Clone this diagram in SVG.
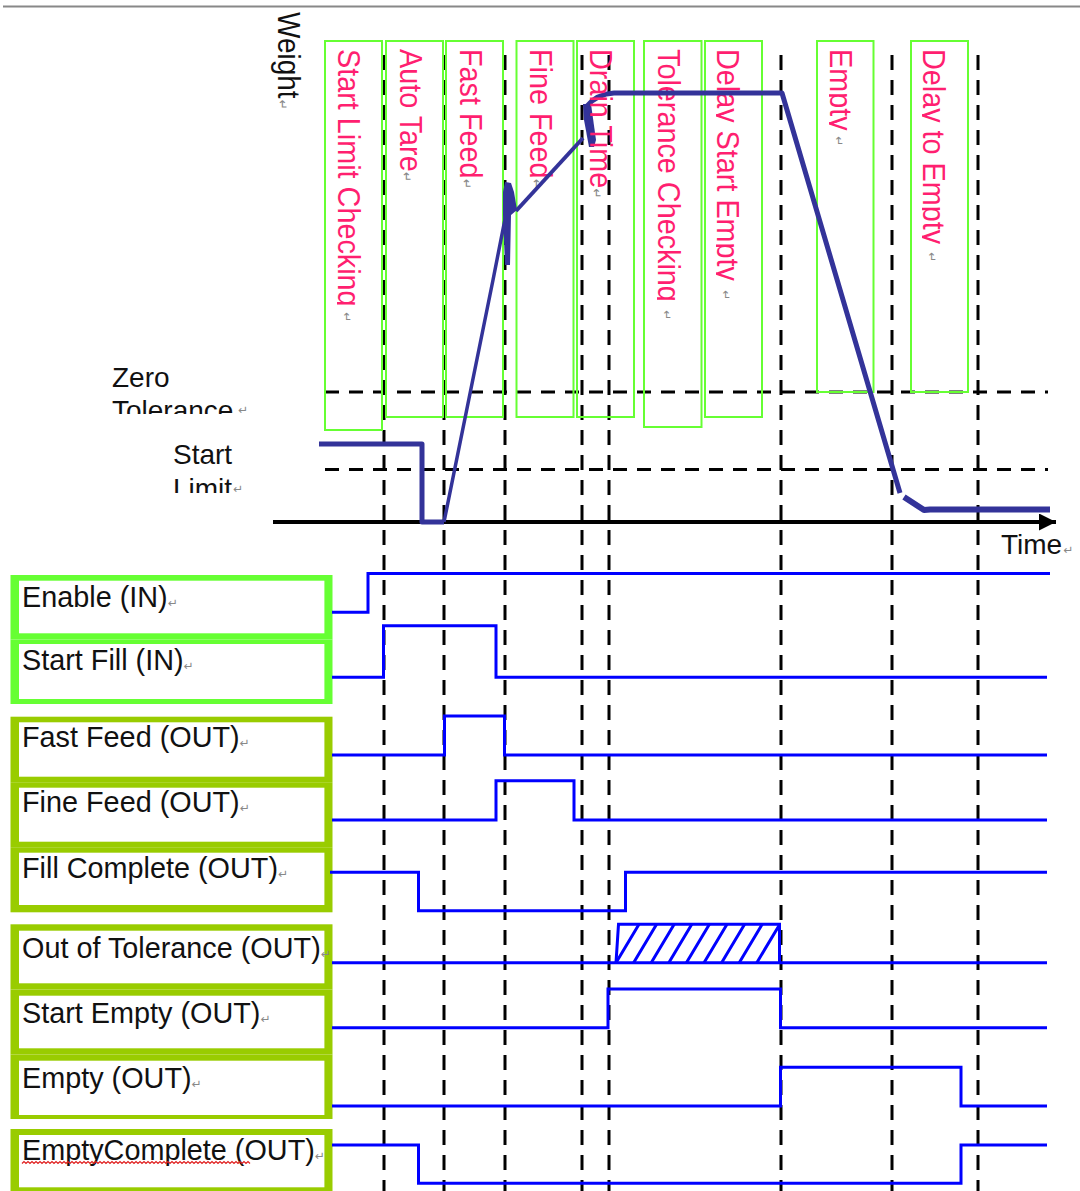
<svg xmlns="http://www.w3.org/2000/svg" width="1080" height="1191" viewBox="0 0 1080 1191">
<style>
.phase{fill:none;stroke:#66ff33;stroke-width:2}
.ptxt{font-family:"Liberation Sans",Arial,sans-serif;font-size:28.8px;fill:#ff1f70}
.mark{font-family:"DejaVu Sans",sans-serif;font-size:12px;fill:#888}
.lbl{font-family:"Liberation Sans",Arial,sans-serif;font-size:28.8px;fill:#111}
.axtxt{font-family:"Liberation Sans",Arial,sans-serif;font-size:28px;fill:#111}
.vd{stroke:#000;stroke-width:3;stroke-dasharray:15 10;fill:none}
.hd{stroke:#000;stroke-width:3;stroke-dasharray:14 10;fill:none}
.sig{fill:none;stroke:#0000ff;stroke-width:3;stroke-linejoin:miter}
.wt{fill:none;stroke:#333399;stroke-linejoin:round}
.inG{fill:#66ff33}
.outG{fill:#99cc00}
.inner{fill:#fff}
</style>
<defs>
<clipPath id="c1"><rect x="337" y="40" width="60" height="400"/></clipPath>
<clipPath id="c6"><rect x="657" y="40" width="50" height="400"/></clipPath>
<clipPath id="c7"><rect x="716" y="40" width="50" height="400"/></clipPath>
<clipPath id="c8"><rect x="829" y="40" width="50" height="400"/></clipPath>
<clipPath id="c9"><rect x="922" y="40" width="50" height="400"/></clipPath>
<clipPath id="czt"><rect x="100" y="350" width="160" height="64"/></clipPath>
<clipPath id="csl"><rect x="160" y="430" width="100" height="63"/></clipPath>
<marker id="arr" viewBox="0 0 10 10" refX="10" refY="5" markerWidth="17" markerHeight="17" markerUnits="userSpaceOnUse" orient="auto"><path d="M0,0 L10,5 L0,10 Z" fill="#000"/></marker>
</defs>
<rect width="1080" height="1191" fill="#fff"/>
<line x1="3" y1="6.5" x2="1080" y2="6.5" stroke="#888" stroke-width="2"/>

<g id="guides">
<path class="vd" d="M384,55V1191M444,55V1191M505,55V1191M582,55V1191M609,55V1191M781,55V1191M892,55V1191M978,55V1191"/>
<path class="hd" d="M325,392H1048M325,469.5H1048"/>
</g>

<g id="axis">
<line x1="273" y1="522" x2="1056" y2="522" stroke="#000" stroke-width="4" marker-end="url(#arr)"/>
<text class="axtxt" transform="translate(278,12) rotate(90) scale(1,1.1)">Weight<tspan class="mark" dx="1">↵</tspan></text>
<g clip-path="url(#czt)"><text class="axtxt" x="112" y="387">Zero</text><text class="axtxt" x="112" y="420">Tolerance</text></g>
<text class="mark" x="238" y="414">↵</text>
<g clip-path="url(#csl)"><text class="axtxt" x="173" y="464">Start</text><text class="axtxt" x="173" y="498">Limit</text></g>
<text class="mark" x="233" y="493">↵</text>
<text class="axtxt" x="1001" y="554">Time<tspan class="mark" dx="1">↵</tspan></text>
</g>

<g id="phase-start-limit-checking"><rect class="phase" x="325" y="41" width="57" height="389"/>
<g clip-path="url(#c1)"><text class="ptxt" transform="translate(338,49) rotate(90) scale(1,1.1)">Start Limit Checking</text></g><text class="mark" transform="translate(343,312) rotate(90)">↵</text></g>
<g id="phase-auto-tare"><rect class="phase" x="386" y="41" width="57" height="376"/>
<text class="ptxt" transform="translate(400,49) rotate(90) scale(1,1.1)">Auto Tare<tspan class="mark" dy="-2">↵</tspan></text></g>
<g id="phase-fast-feed"><rect class="phase" x="446" y="41" width="57" height="376"/>
<text class="ptxt" transform="translate(460,49) rotate(90) scale(1,1.1)">Fast Feed<tspan class="mark" dy="-2">↵</tspan></text></g>
<g id="phase-fine-feed"><rect class="phase" x="516.5" y="41" width="57" height="376"/>
<text class="ptxt" transform="translate(530,49) rotate(90) scale(1,1.1)">Fine Feed<tspan class="mark" dy="-2">↵</tspan></text></g>
<g id="phase-drain-time"><rect class="phase" x="577" y="41" width="57" height="376"/></g>
<g id="phase-tolerance-checking"><rect class="phase" x="644" y="41" width="57.5" height="386"/>
<g clip-path="url(#c6)"><text class="ptxt" transform="translate(658,49) rotate(90) scale(1,1.1)">Tolerance Checking</text></g><text class="mark" transform="translate(663,310) rotate(90)">↵</text></g>
<g id="phase-delay-start-empty"><rect class="phase" x="705" y="41" width="57" height="376"/>
<g clip-path="url(#c7)"><text class="ptxt" transform="translate(717,49) rotate(90) scale(1,1.1)">Delay Start Empty</text></g><text class="mark" transform="translate(722,290) rotate(90)">↵</text></g>
<g id="phase-empty"><rect class="phase" x="817" y="41" width="56.5" height="351"/>
<g clip-path="url(#c8)"><text class="ptxt" transform="translate(830,49) rotate(90) scale(1,1.1)">Empty</text></g><text class="mark" transform="translate(835,136) rotate(90)">↵</text></g>
<g id="phase-delay-to-empty"><rect class="phase" x="911" y="41" width="57" height="351"/>
<g clip-path="url(#c9)"><text class="ptxt" transform="translate(923,49) rotate(90) scale(1,1.1)">Delay to Empty</text></g><text class="mark" transform="translate(928,252) rotate(90)">↵</text></g>

<g id="weight-curve">
<path class="wt" stroke-width="5" d="M319,444H422V522H444"/>
<path class="wt" stroke-width="3.5" d="M444,522L493,280L506,214"/>
<polygon fill="#333399" points="505,182 511,183 514,192 517,210 511,215 510,265 505,265 503,215 503,192"/>
<path class="wt" stroke-width="4" d="M516,211L583,138"/>
<polygon fill="#333399" points="583,104 591,104 596,140 594,147 589,147 584,120"/>
<path class="wt" stroke-width="5" d="M587,106Q597,94 614,93H782L900,493"/>
<path class="wt" stroke-width="6" d="M904,497L924,510L930,509.5H1050"/>
</g>

<text class="ptxt" transform="translate(590,49) rotate(90) scale(1,1.1)">Drain Time<tspan class="mark" dy="-2">↵</tspan></text>

<g id="node-enable"><rect class="inG" x="10.5" y="575" width="322" height="64.5"/><rect class="inner" x="19" y="580.7" width="305.4" height="52.6"/>
<text class="lbl" x="22" y="607">Enable (IN)<tspan class="mark">↵</tspan></text></g>
<g id="node-start-fill"><rect class="inG" x="10.5" y="639.5" width="322" height="64.5"/><rect class="inner" x="19" y="644" width="305.4" height="55"/>
<text class="lbl" x="22" y="669.5">Start Fill (IN)<tspan class="mark">↵</tspan></text></g>

<g id="node-fast-feed"><rect class="outG" x="10.5" y="716.7" width="322" height="65.5"/><rect class="inner" x="19" y="722.3" width="305.4" height="54.4"/>
<text class="lbl" x="22" y="747">Fast Feed (OUT)<tspan class="mark">↵</tspan></text></g>
<g id="node-fine-feed"><rect class="outG" x="10.5" y="782.2" width="322" height="65"/><rect class="inner" x="19" y="787.7" width="305.4" height="54"/>
<text class="lbl" x="22" y="812">Fine Feed (OUT)<tspan class="mark">↵</tspan></text></g>
<g id="node-fill-complete"><rect class="outG" x="10.5" y="847.2" width="322" height="65.1"/><rect class="inner" x="19" y="852.7" width="305.4" height="52.3"/>
<text class="lbl" x="22" y="878">Fill Complete (OUT)<tspan class="mark">↵</tspan></text></g>

<g id="node-out-of-tolerance"><rect class="outG" x="10.5" y="924.3" width="322" height="65.2"/><rect class="inner" x="19" y="930.7" width="305.4" height="52.6"/>
<text class="lbl" x="22" y="957.5">Out of Tolerance (OUT)<tspan class="mark">↵</tspan></text></g>
<g id="node-start-empty"><rect class="outG" x="10.5" y="989.5" width="322" height="65"/><rect class="inner" x="19" y="995.7" width="305.4" height="52.6"/>
<text class="lbl" x="22" y="1022.5">Start Empty (OUT)<tspan class="mark">↵</tspan></text></g>
<g id="node-empty"><rect class="outG" x="10.5" y="1054.5" width="322" height="64.5"/><rect class="inner" x="19" y="1060.7" width="305.4" height="54.3"/>
<text class="lbl" x="22" y="1087.5">Empty (OUT)<tspan class="mark">↵</tspan></text></g>

<g id="node-empty-complete"><rect class="outG" x="10.5" y="1129" width="322" height="70"/><rect class="inner" x="19" y="1135" width="305.4" height="52.3"/>
<text class="lbl" x="22" y="1160">EmptyComplete (OUT)<tspan class="mark">↵</tspan></text>
<path d="M22,1163.5l2,-2l2,2l2,-2l2,2l2,-2l2,2l2,-2l2,2l2,-2l2,2l2,-2l2,2l2,-2l2,2l2,-2l2,2l2,-2l2,2l2,-2l2,2l2,-2l2,2l2,-2l2,2l2,-2l2,2l2,-2l2,2l2,-2l2,2l2,-2l2,2l2,-2l2,2l2,-2l2,2l2,-2l2,2l2,-2l2,2l2,-2l2,2l2,-2l2,2l2,-2l2,2l2,-2l2,2l2,-2l2,2l2,-2l2,2l2,-2l2,2l2,-2l2,2l2,-2l2,2l2,-2l2,2l2,-2l2,2l2,-2l2,2l2,-2l2,2l2,-2l2,2l2,-2l2,2l2,-2l2,2l2,-2l2,2l2,-2l2,2l2,-2l2,2l2,-2l2,2l2,-2l2,2l2,-2l2,2l2,-2l2,2l2,-2l2,2l2,-2l2,2l2,-2l2,2l2,-2l2,2l2,-2l2,2l2,-2l2,2l2,-2l2,2l2,-2l2,2l2,-2l2,2l2,-2l2,2l2,-2l2,2l2,-2l2,2l2,-2l2,2l2,-2l2,2" fill="none" stroke="#e02020" stroke-width="1.2"/></g>

<g id="connectors">
<path class="sig" d="M332,612.3H368V573.5H1050"/>
<path class="sig" d="M332,677.3H383.5V625.7H496V677.3H1047"/>
<path class="sig" d="M332,755H444.5V716H504.5V755H1047"/>
<path class="sig" d="M332,820H496V780.7H574V820H1047"/>
<path class="sig" d="M330,872.3H418.5V910.7H625.5V872.3H1047"/>
<path class="sig" d="M332,962.7H1047"/>
<path class="sig" d="M616,962.7L618.5,924.3H779.5V962.7"/>
<path class="sig" d="M616,962.7l23,-38.4M633.6,962.7l23,-38.4M651.2,962.7l23,-38.4M668.8,962.7l23,-38.4M686.4,962.7l23,-38.4M704,962.7l23,-38.4M721.6,962.7l23,-38.4M739.2,962.7l23,-38.4M756.8,962.7l23,-38.4"/>
<path class="sig" d="M332,1027.7H608V989H780.5V1027.7H1047"/>
<path class="sig" d="M332,1106H780.5V1067.3H961V1106H1047"/>
<path class="sig" d="M332,1145H418.5V1183.3H961V1145H1047"/>
</g>
</svg>
